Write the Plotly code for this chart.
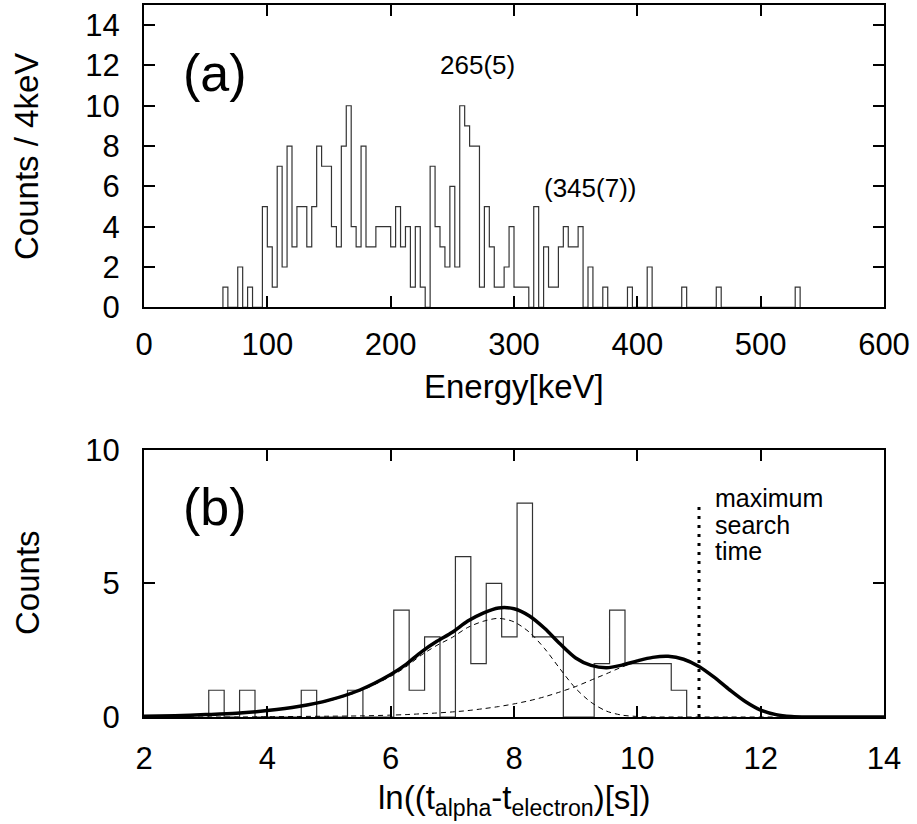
import numpy as np
import plotly.graph_objects as go

# ---------------- data: panel (a) energy spectrum ----------------
energy_bin_width = 4  # keV
energy_low_edges = np.arange(64, 532, energy_bin_width)  # 64 ... 528 keV
energy_counts = [
    1, 0, 0, 2, 0, 1, 0, 0, 5,
    3, 1, 7, 2, 8, 3, 5, 5, 3, 5,
    8, 7, 7, 4, 3, 8, 10, 4, 3, 8,
    3, 3, 4, 4, 4, 3, 5, 3, 4, 1,
    4, 1, 0, 7, 4, 3, 2, 6, 2, 10,
    9, 8, 8, 1, 5, 3, 1, 1, 2, 4,
    1, 1, 1, 0, 5, 0, 3, 1, 1, 3,
    4, 3, 3, 4, 0, 2, 0, 0, 1, 0,
    0, 0, 0, 1, 0, 0, 0, 2, 0, 0,
    0, 0, 0, 0, 1, 0, 0, 0, 0, 0, 0,
    1, 0, 0, 0, 0, 0, 0, 0, 0, 0, 0, 0, 0, 0, 0, 0,
    1,
]
energy_x_ticks = [0, 100, 200, 300, 400, 500, 600]
energy_y_ticks = [0, 2, 4, 6, 8, 10, 12, 14]

# ---------------- data: panel (b) decay-time distribution ----------------
lnt_bin_width = 0.25
lnt_low_edges = 3.05 + lnt_bin_width * np.arange(31)
lnt_counts = [
    1, 0, 1, 0, 0, 0, 1, 0, 0, 1, 0, 0,
    4, 1, 3, 0, 6, 2, 5, 3, 8, 3, 3, 0, 0,
    2, 4, 2, 2, 2, 1,
]

fit_x = [2.0, 2.5, 3.0, 3.5, 4.0, 4.5, 5.0, 5.5, 6.0, 6.25, 6.5, 6.75, 7.0,
         7.25, 7.5, 7.75, 8.0, 8.25, 8.5, 8.75, 9.0, 9.25, 9.5, 9.75, 10.0,
         10.25, 10.5, 10.75, 11.0, 11.25, 11.5, 11.75, 12.0, 12.25, 12.5,
         12.75, 13.0, 14.0]
fit_total = [0.03, 0.05, 0.09, 0.14, 0.24, 0.39, 0.63, 1.01, 1.59, 1.97, 2.44,
             2.83, 3.17, 3.59, 3.89, 4.08, 4.05, 3.78, 3.31, 2.73, 2.21, 1.93,
             1.84, 1.94, 2.10, 2.23, 2.27, 2.16, 1.89, 1.48, 1.01, 0.58, 0.26,
             0.09, 0.02, 0.0, 0.0, 0.0]
fit_component_1 = [0.03, 0.05, 0.09, 0.14, 0.23, 0.37, 0.60, 0.97, 1.52, 1.88,
                   2.32, 2.68, 2.98, 3.35, 3.58, 3.69, 3.56, 3.17, 2.55, 1.79,
                   1.07, 0.55, 0.22, 0.07, 0.02, 0.0, 0.0, 0.0, 0.0, 0.0, 0.0,
                   0.0, 0.0, 0.0, 0.0, 0.0, 0.0, 0.0]
fit_component_2 = [0.0, 0.0, 0.0, 0.0, 0.01, 0.02, 0.03, 0.04, 0.07, 0.09, 0.12,
                   0.15, 0.19, 0.24, 0.31, 0.39, 0.49, 0.61, 0.76, 0.94, 1.14,
                   1.38, 1.62, 1.87, 2.08, 2.23, 2.27, 2.16, 1.89, 1.48, 1.01,
                   0.58, 0.26, 0.09, 0.02, 0.0, 0.0, 0.0]
max_search_lnt = 11.0
max_search_marker_top = 8.05
lnt_x_ticks = [2, 4, 6, 8, 10, 12, 14]
lnt_y_ticks = [0, 5, 10]

FONT = "Liberation Sans, Arial, Helvetica, sans-serif"
W, H = 917, 824
ML, MR, MT, MB = 144, 33, 5, 107
PW = W - ML - MR
PH = H - MT - MB


def step_outline(low_edges, counts, width):
    edges = list(low_edges) + [low_edges[-1] + width]
    xs = [edges[0]] + edges
    ys = [0] + list(counts) + [0]
    return xs, ys


def px_x(px):
    return (px - ML) / PW


def px_y(py):
    return (H - MB - py) / PH


fig = go.Figure()

hx, hy = step_outline(energy_low_edges, energy_counts, energy_bin_width)
fig.add_trace(go.Scatter(x=hx, y=hy, mode="lines", line=dict(shape="hv", color="#333", width=1.2),
                         xaxis="x", yaxis="y", showlegend=False))

bx, by = step_outline(lnt_low_edges, lnt_counts, lnt_bin_width)
fig.add_trace(go.Scatter(x=bx, y=by, mode="lines", line=dict(shape="hv", color="#333", width=1.2),
                         xaxis="x2", yaxis="y2", showlegend=False))
for comp in (fit_component_1, fit_component_2):
    fig.add_trace(go.Scatter(x=fit_x, y=comp, mode="lines",
                             line=dict(shape="spline", smoothing=0.8, color="black", width=1, dash="5px,4px"),
                             xaxis="x2", yaxis="y2", showlegend=False))
fig.add_trace(go.Scatter(x=fit_x, y=fit_total, mode="lines",
                         line=dict(shape="spline", smoothing=0.8, color="black", width=3.5),
                         xaxis="x2", yaxis="y2", showlegend=False))
fig.add_trace(go.Scatter(x=[max_search_lnt, max_search_lnt], y=[0, max_search_marker_top], mode="lines",
                         line=dict(color="black", width=3, dash="3px,6px"),
                         xaxis="x2", yaxis="y2", showlegend=False))

axis_common = dict(
    showgrid=False, zeroline=False, showline=True, linecolor="black", linewidth=2,
    mirror="allticks", ticks="inside", ticklen=11, tickwidth=1.5, tickcolor="black",
    tickfont=dict(family=FONT, size=31, color="black"),
)

top_bottom = px_y(307.3)
b_top = px_y(449.7)

fig.update_layout(
    width=W, height=H,
    margin=dict(l=ML, r=MR, t=MT, b=MB, autoexpand=False),
    paper_bgcolor="white", plot_bgcolor="white",
    font=dict(family=FONT, color="black"),
    xaxis=dict(domain=[0, 1], anchor="y", range=[0, 600], tickvals=energy_x_ticks,
               ticklabelstandoff=8, **axis_common),
    yaxis=dict(domain=[top_bottom, 1], anchor="x", range=[0, 15], tickvals=energy_y_ticks,
               ticklabelstandoff=16, **axis_common),
    xaxis2=dict(domain=[0, 1], anchor="y2", range=[2, 14], tickvals=lnt_x_ticks,
                ticklabelstandoff=13, **axis_common),
    yaxis2=dict(domain=[0, b_top], anchor="x2", range=[0, 10], tickvals=lnt_y_ticks,
                ticklabelstandoff=16, **axis_common),
)

annotations = [
    dict(text="(a)", x=px_x(215), y=px_y(73), xref="paper", yref="paper",
         font=dict(size=52)),
    dict(text="265(5)", x=270, y=12.0, xref="x", yref="y", font=dict(size=26)),
    dict(text="(345(7))", x=362, y=5.92, xref="x", yref="y", font=dict(size=26)),
    dict(text="Counts / 4keV", x=px_x(27), y=px_y(157), xref="paper", yref="paper",
         textangle=-90, font=dict(size=33)),
    dict(text="Energy[keV]", x=px_x(514), y=px_y(386), xref="paper", yref="paper",
         font=dict(size=33)),
    dict(text="(b)", x=3.15, y=7.85, xref="x2", yref="y2", font=dict(size=52)),
    dict(text="Counts", x=px_x(27), y=px_y(583), xref="paper", yref="paper",
         textangle=-90, font=dict(size=33)),
    dict(text="ln((t<sub>alpha</sub>-t<sub>electron</sub>)[s])", x=px_x(514), y=px_y(800),
         xref="paper", yref="paper", font=dict(size=33)),
]
for i, word in enumerate(["maximum", "search", "time"]):
    annotations.append(dict(text=word, x=11.22, y=8.2 - i * 1.0, xref="x2", yref="y2",
                            xanchor="left", font=dict(size=25)))
for a in annotations:
    a.setdefault("showarrow", False)
    a.setdefault("xanchor", "center")
    a.setdefault("yanchor", "middle")
    a["font"] = dict(family=FONT, color="black", **a["font"])
fig.update_layout(annotations=annotations)

fig.write_html("out.html")
